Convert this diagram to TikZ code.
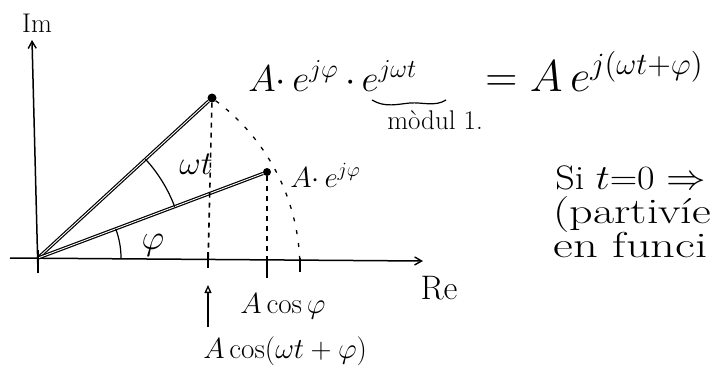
\documentclass[tikz,border=0pt]{standalone}
\usetikzlibrary{arrows.meta}
\begin{document}
\begin{tikzpicture}[x=1pt,y=-1pt,
  axis/.style={line width=1.5pt,-{Straight Barb[length=7pt,width=8pt,line width=1.4pt]}},
  vec/.style={line width=1.2pt,double,double distance=0.9pt},
  proj/.style={line width=1.6pt,dash pattern=on 5pt off 5pt},
  circ/.style={line width=1.3pt,dash pattern=on 4pt off 9pt},
  tick/.style={line width=1.4pt},
  pt/.style={circle,fill=black,inner sep=0pt,minimum size=9pt},
  fs/.style={inner sep=0pt,font=\fontsize{20}{20}\selectfont,scale=#1/20,transform shape}]
\useasboundingbox (0,0) rectangle (720,365);
\clip (0,0) rectangle (720,365);
% axes
\coordinate (O) at (38,258);
\coordinate (imbot) at (38,273);
\coordinate (imtop) at (32,40);
\coordinate (releft) at (10,258);
\coordinate (retip) at (423,261);
\draw[axis] (imbot) -- (imtop);
\draw[axis] (releft) -- (retip);
\node[fs=27,anchor=base] (im) at (37,32) {Im};
\node[fs=34,anchor=base] (re) at (439,299) {Re};
% points
\node[pt] (P2) at (212,98) {};
\node[pt,minimum size=8pt] (P1) at (267,172) {};
\draw[vec] (O) -- (P2);
\draw[vec] (O) -- (P1);
% angle arcs
\draw[line width=1.2pt] (121,258) arc[start angle=0,end angle=-20.6,radius=83];
\node[fs=34] (phi) at (153,245) {$\varphi$};
\draw[line width=1.2pt] (O) ++(-20.6:146) arc[start angle=-20.6,end angle=-42.6,radius=146];
\node[fs=32] (wt) at (196,164) {$\omega t$};
% projections
\coordinate (f2) at (208,266);
\coordinate (f1) at (267,270);
\draw[proj] (P2) -- (f2);
\draw[proj] (P1) -- (f1);
\draw[tick] (208,252) -- (208,268);
\draw[tick] (267,256) -- (267,278);
\draw[tick] (300,258) -- (300,272);
\draw[tick] (38,250) -- (imbot);
% circle arc
\coordinate (cend) at (300,270);
\draw[circ] (P2) .. controls (258,132) and (300,190) .. (cend);
% arrow up
\coordinate (arrt) at (208,327);
\coordinate (arrh) at (208,285);
\draw[line width=1.4pt,-{Triangle[open,length=8pt,width=7pt,line width=1.3pt]}] (arrt) -- (arrh);
% labels
\node[fs=28,anchor=base] (acosphi) at (283,313) {$A\cos\varphi$};
\node[fs=28,anchor=base west] (acoswt) at (203,358) {$A\cos(\omega t+\varphi)$};
\node[fs=28,anchor=base west] (aejphi) at (290,187) {$A{\cdot}\,e^{j\varphi}$};
\node[fs=36,anchor=base west] (lhs) at (248,91) {$A{\cdot}\,e^{j\varphi}\,{\cdot}\,e^{j\omega t}$};
\node[fs=43,anchor=base west] (rhs) at (485,91) {$=A\,e^{j(\omega t+\varphi)}$};
\draw[line width=1.2pt] (372,100) .. controls (385,108) and (398,104) .. (410,103) .. controls (422,102) and (435,107) .. (446,100);
\node[fs=27,anchor=base west] (modul) at (387,129) {m\`odul 1.};
\node[fs=34,anchor=base west,xscale=1.12] (si) at (555,189) {Si $t$=0 $\Rightarrow$};
\node[fs=36,anchor=base west,xscale=1.28] (part) at (553,223) {(partiv\'ie};
\node[fs=36,anchor=base west,xscale=1.35] (func) at (553,257) {en funci};
\end{tikzpicture}
\end{document}
